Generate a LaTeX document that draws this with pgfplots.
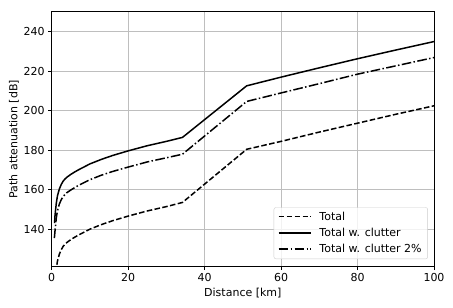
\documentclass[border=0pt]{standalone}
\usepackage{pgfplots}
\pgfplotsset{compat=1.18}
\usepackage{fontspec}
\setmainfont{DejaVu Sans}
\definecolor{gridgray}{RGB}{190,190,190}
\begin{document}
\begin{tikzpicture}[font=\fontsize{11bp}{13.2bp}\selectfont]
\begin{axis}[
  scale only axis, width=382.3bp, height=255bp,
  xmin=0, xmax=100, ymin=121, ymax=250,
  xtick={0,20,40,60,80,100}, ytick={140,160,180,200,220,240},
  grid=major, major grid style={color=gridgray, line width=0.8bp},
  tick align=outside, xtick pos=bottom, ytick pos=left,
  major tick length=3.5bp, tick style={black, line width=0.8bp},
  axis line style={line width=0.8bp},
  /pgf/number format/assume math mode=true,
  xlabel={Distance [km]}, ylabel={Path attenuation [dB]},
  xlabel style={at={(axis description cs:0.5,-0.104)}, anchor=center},
  ylabel style={at={(axis description cs:-0.0986,0.5)}, anchor=center},
  legend style={at={(0.984,0.030)}, anchor=south east, draw=black!20,
    rounded corners=2bp, fill=white, fill opacity=0.8, text opacity=1,
    inner xsep=4bp, inner ysep=2.5bp, row sep=2.4bp,
    /tikz/every odd column/.append style={column sep=6bp}},
  legend cell align=left,
  legend image code/.code={\draw[#1] (0bp,0.3bp) -- (32bp,0.3bp);},
]
\addplot[black, line width=1.5bp, dash pattern=on 5.55bp off 2.4bp] coordinates {
(0.75,110) (0.85,113.5) (1,116.5) (1.2,120) (1.5,123.8) (2,127.3) (2.5,129.6) (3,131.3) (3.5,132.4) (4,133.3) (5,134.7) (6,135.9) (7,137) (8.5,138.5) (10,140) (13,142.3) (16,144.3) (20,146.6) (25,149.2) (30,151.4) (34.2,153.5) (51,180.4) (60,184.4) (70,189.1) (80,193.6) (90,198.1) (100,202.4)
};
\addlegendentry{Total}
\addplot[black, line width=1.5bp, solid] coordinates {
(0.75,143) (0.85,146.5) (1,149.5) (1.2,153) (1.5,156.8) (2,160.3) (2.5,162.6) (3,164.3) (3.5,165.4) (4,166.3) (5,167.7) (6,168.9) (7,170) (8.5,171.5) (10,173) (13,175.3) (16,177.3) (20,179.6) (25,182.2) (30,184.4) (34.2,186.4) (51,212.5) (60,216.9) (70,221.6) (80,226.2) (90,230.6) (100,234.9)
};
\addlegendentry{Total w. clutter}
\addplot[black, line width=1.5bp, dash pattern=on 9.6bp off 2.4bp on 1.5bp off 2.4bp] coordinates {
(0.7,135.5) (0.85,138.8) (1,141.8) (1.2,145.7) (1.5,149.3) (2,152.7) (2.5,154.9) (3,156.5) (3.5,157.6) (4,158.5) (5,159.8) (6,161) (7,162.1) (8.5,163.6) (10,165) (13,167.3) (16,169.2) (20,171.4) (25,174) (30,176.1) (34.2,177.9) (51,204.6) (60,208.9) (70,213.6) (80,218.4) (90,222.6) (100,226.8)
};
\addlegendentry{Total w. clutter 2\%}
\end{axis}
\path ([shift={(-51.7bp,-41.3bp)}]current axis.south west) rectangle ([shift={(19bp,11.7bp)}]current axis.north east);
\end{tikzpicture}
\end{document}
